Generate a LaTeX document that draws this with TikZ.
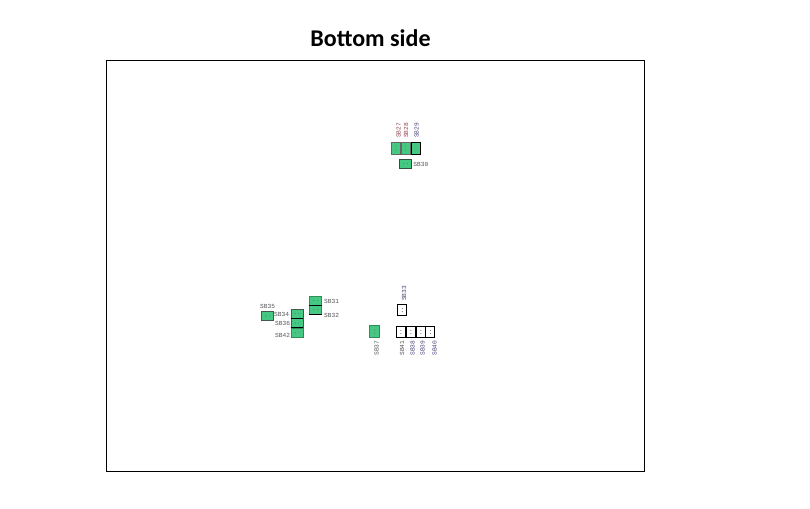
\documentclass[tikz,border=0pt]{standalone}
\usepackage{fontspec}
\setmainfont{Liberation Sans}
\newfontfamily\titlefont{Carlito}
\newfontfamily\padfont{Liberation Mono}
\usetikzlibrary{positioning}
\definecolor{padgreen}{RGB}{68,200,130}
\definecolor{padedge}{RGB}{50,80,62}
\definecolor{labelgray}{RGB}{85,85,90}
\definecolor{labelred}{RGB}{140,70,80}
\definecolor{labelblue}{RGB}{70,70,125}
\tikzset{
  greenpad/.style={rectangle, draw=padedge, fill=padgreen, line width=0.9pt, inner sep=0pt, minimum width=#1},
  whitepad/.style={rectangle, draw=black, fill=white, line width=0.9pt, inner sep=0pt, minimum width=9pt, minimum height=11.5pt},
  padtext/.style={inner sep=0pt, text=labelgray, font=\padfont\fontsize{6.2}{7}\selectfont},
  padmark/.style={circle, fill=#1, inner sep=0pt, minimum size=1.1pt}
}
\begin{document}
\begin{tikzpicture}[x=1pt, y=-1pt]
\useasboundingbox (0,0) rectangle (810,508);

% Title and board outline
\node[font=\titlefont\bfseries\fontsize{24}{28}\selectfont] (title) at (370.5,38) {Bottom side};
\node[rectangle, draw=black, line width=0.8pt, minimum width=538.5pt, minimum height=411.5pt, inner sep=0pt] (board) at (375.6,266) {};

% Upper group
\node[greenpad=9.5pt, minimum height=12.5pt, draw=gray!80!black] (pad27) at (396,148.5) {};
\node[greenpad=9.5pt, minimum height=12.5pt, draw=gray!80!black] (pad28) at (405.7,148.5) {};
\node[greenpad=9.5pt, minimum height=12.5pt, draw=black] (pad29) at (416,148.5) {};
\node[greenpad=12pt, minimum height=9pt] (pad30) at (405.5,163.5) {};
\node[padtext, rotate=90, text=labelred] (text27) at (398.5,130.5) {SB27};
\node[padtext, rotate=90, text=labelred] (text28) at (406,130.5) {SB28};
\node[padtext, rotate=90, text=labelblue] (text29) at (416.5,130.5) {SB29};
\node[padtext, right=1.2pt of pad30, yshift=-0.7pt] (text30) {SB30};

% Left group
\node[greenpad=12.5pt, minimum height=9pt, draw=padgreen!70!black] (pad31) at (315.5,300.5) {};
\node[greenpad=12.5pt, minimum height=9pt, draw=padgreen!70!black] (pad32) at (315.5,309.7) {};
\draw[line width=1pt] (pad31.south west) -- (pad31.south east);
\draw[line width=1pt] (pad32.south west) -- (pad32.south east);
\node[greenpad=12.5pt, minimum height=9pt, draw=padedge!80!gray] (pad35) at (267.5,316) {};
\node[greenpad=12pt, minimum height=9pt, draw=padedge!80!gray] (pad34) at (297,313.5) {};
\node[greenpad=12pt, minimum height=9pt, draw=padedge!80!gray] (pad36) at (297,323) {};
\node[greenpad=12pt, minimum height=9pt, draw=padgreen!70!black] (pad42) at (297,332.5) {};
\draw[line width=1pt] (pad34.south west) -- (pad34.south east);
\draw[line width=1pt] (pad36.south west) -- (pad36.south east);
\node[padtext, anchor=west] (text31) at (324,301.5) {SB31};
\node[padtext, anchor=west] (text32) at (324,315) {SB32};
\node[padtext, anchor=west] (text35) at (260,306.5) {SB35};
\node[padtext, anchor=west] (text34) at (274,314.5) {SB34};
\node[padtext, anchor=west] (text36) at (275,323.5) {SB36};
\node[padtext, anchor=west] (text42) at (275,335) {SB42};

% Lower right group
\node[greenpad=10pt, minimum height=12.5pt, draw=padgreen!70!black] (pad37) at (374.6,331.5) {};
\node[whitepad] (pad33) at (402.3,310) {};
\node[whitepad] (pad41) at (400.8,332) {};
\node[whitepad] (pad38) at (410.8,332) {};
\node[whitepad] (pad39) at (420.8,332) {};
\node[whitepad] (pad40) at (430.3,332) {};
\node[padtext, rotate=90] (text37) at (376.5,348) {SB37};
\node[padtext, rotate=90, text=labelblue] (text33) at (404,293.5) {SB33};
\node[padtext, rotate=90] (text41) at (402,348) {SB41};
\node[padtext, rotate=90, text=labelblue] (text38) at (412.5,348) {SB38};
\node[padtext, rotate=90, text=labelblue] (text39) at (422.5,348) {SB39};
\node[padtext, rotate=90, text=labelblue] (text40) at (434.5,348) {SB40};

% Pad marks
\foreach \padname in {27,28,29,37,33,41,38,39,40} {
  \node[padmark=black!55] (dota\padname) at ([yshift=-1.6pt]pad\padname.center) {};
  \node[padmark=black!55] (dotb\padname) at ([yshift=1.6pt]pad\padname.center) {};
}
\foreach \padname in {30,31,32,35,34,36,42} {
  \node[padmark=black!55] (dota\padname) at ([xshift=-1.8pt]pad\padname.center) {};
  \node[padmark=black!55] (dotb\padname) at ([xshift=1.8pt]pad\padname.center) {};
}
\end{tikzpicture}
\end{document}
